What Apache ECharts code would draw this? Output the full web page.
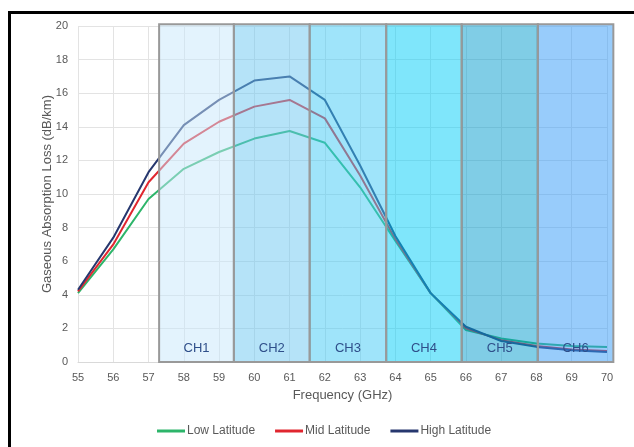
<!DOCTYPE html>
<html><head><meta charset="utf-8">
<script src="https://cdn.jsdelivr.net/npm/echarts@6/dist/echarts.min.js"></script>
<style>html,body{margin:0;padding:0;background:#fff}#c{width:634px;height:447px}</style>
</head><body><div id="c"></div>
<script>
var freqs = [55,56,57,58,59,60,61,62,63,64,65,66,67,68,69,70];
var lowLat  = [4.1,6.7,9.7,11.5,12.5,13.3,13.75,13.05,10.4,7.2,4.1,1.9,1.4,1.1,0.95,0.9];
var midLat  = [4.2,7.0,10.7,13.0,14.3,15.2,15.6,14.5,11.1,7.3,4.1,2.0,1.3,0.95,0.75,0.65];
var highLat = [4.3,7.4,11.3,14.1,15.6,16.75,17.0,15.6,11.7,7.5,4.1,2.1,1.25,0.9,0.7,0.6];
var chNames  = ['CH1','CH2','CH3','CH4','CH5','CH6'];
var chStart  = [57.3,59.42,61.57,63.74,65.88,68.04];
var chEnd    = [59.42,61.57,63.74,65.88,68.04,70.18];
var chColors = ['rgba(199,231,251,0.5)','rgba(107,199,241,0.5)','rgba(63,201,245,0.5)','rgba(0,205,247,0.5)','rgba(1,155,205,0.5)','rgba(49,153,247,0.5)'];

function pairs(ys){ return freqs.map(function(f,i){return [f, ys[i]];}); }
var boxData = chNames.map(function(n,i){ return [chStart[i], chEnd[i], i]; });

var chart = echarts.init(document.getElementById('c'));
var font = 'Liberation Sans, Arial, sans-serif';
chart.setOption({
  animation:false,
  textStyle:{fontFamily:font},
  graphic:[{type:'rect', left:7, top:10, shape:{width:700,height:500}, style:{fill:'none', stroke:'#000', lineWidth:3}, z:100}],
  grid:{left:78, right:27, top:26, bottom:85},
  legend:{bottom:5, left:152, itemWidth:28, itemHeight:3, itemGap:20, icon:'rect',
    textStyle:{color:'#595959', fontSize:12, fontFamily:font, padding:[0,0,0,-3]},
    data:['Low Latitude','Mid Latitude','High Latitude']},
  xAxis:{type:'value', min:55, max:70, interval:1,
    name:'Frequency (GHz)', nameLocation:'middle', nameGap:27, nameMoveOverlap:false,
    nameTextStyle:{color:'#595959', fontSize:13},
    axisLine:{show:true, lineStyle:{color:'#d9d9d9'}}, axisTick:{show:false},
    axisLabel:{color:'#595959', fontSize:11, margin:10},
    splitLine:{show:true, lineStyle:{color:'#e3e3e3'}}},
  yAxis:{type:'value', min:0, max:20, interval:2,
    name:'Gaseous Absorption Loss (dB/km)', nameLocation:'middle', nameGap:24, nameMoveOverlap:false,
    nameTextStyle:{color:'#595959', fontSize:13},
    axisLine:{show:false}, axisTick:{show:false},
    axisLabel:{color:'#595959', fontSize:11, margin:10},
    splitLine:{show:true, lineStyle:{color:'#e3e3e3'}}},
  series:[
    {name:'Low Latitude', type:'line', data:pairs(lowLat), showSymbol:false, z:2,
      lineStyle:{width:2, color:'#2db56a'}, itemStyle:{color:'#2db56a'}},
    {name:'Mid Latitude', type:'line', data:pairs(midLat), showSymbol:false, z:2,
      lineStyle:{width:2, color:'#e0262f'}, itemStyle:{color:'#e0262f'}},
    {name:'High Latitude', type:'line', data:pairs(highLat), showSymbol:false, z:2,
      lineStyle:{width:2, color:'#26376e'}, itemStyle:{color:'#26376e'}},
    {type:'custom', z:3, clip:false, silent:true, data:boxData,
      encode:{x:[0,1]},
      renderItem:function(params, api){
        var i = api.value(2);
        var p0 = api.coord([api.value(0), 20.1]);
        var p1 = api.coord([api.value(1), 0]);
        return {type:'group', children:[
          {type:'rect', shape:{x:p0[0], y:p0[1], width:p1[0]-p0[0], height:p1[1]-p0[1]},
            style:{fill:chColors[i], stroke:'#999999', lineWidth:2}},
          {type:'text', style:{text:chNames[i], x:(p0[0]+p1[0])/2, y:p1[1]-14,
            textAlign:'center', textVerticalAlign:'middle', fill:'#2f4f8a', fontSize:13, fontFamily:font}}
        ]};
      }}
  ]
});
</script></body></html>
